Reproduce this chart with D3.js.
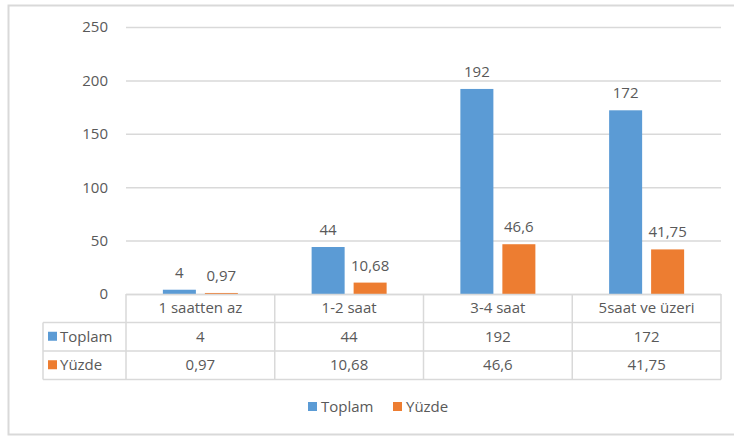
<!DOCTYPE html>
<html>
<head>
<meta charset="utf-8">
<script src="https://cdn.jsdelivr.net/npm/d3@7"></script>
<style>
  body { margin: 0; background: #fff; }
  svg text { font-family: "Open Sans", "Noto Sans", sans-serif; fill: #595959; }
</style>
</head>
<body>
<div id="chart"></div>
<script>
const categories = ['1 saatten az', '1-2 saat', '3-4 saat', '5saat ve üzeri'];
const toplam = [4, 44, 192, 172];
const yuzde = [0.97, 10.68, 46.6, 41.75];
const yuzdeLabels = ['0,97', '10,68', '46,6', '41,75'];
const yTicks = [0, 50, 100, 150, 200, 250];

const seriesList = [
    { name: 'Toplam', values: toplam, labels: toplam.map(String), color: '#5B9BD5' },
    { name: 'Yüzde', values: yuzde, labels: yuzdeLabels, color: '#ED7D31' }
];

const width = 734;
const height = 436;
const margin = { top: 27, left: 126, right: 13 };
const plotBottom = 294;
const rowH = 28.5;

const svg = d3.select('#chart')
    .append('svg')
    .attr('width', width)
    .attr('height', height);

// outer frame
svg.append('rect')
    .attr('x', 8.5).attr('y', 5.5)
    .attr('width', 760).attr('height', 429)
    .attr('fill', 'none')
    .attr('stroke', '#d9d9d9')
    .attr('stroke-width', 2);

const x = d3.scaleBand()
    .domain(categories)
    .range([margin.left, width - margin.right])
    .paddingInner(0)
    .paddingOuter(0);

const inner = d3.scaleBand()
    .domain(seriesList.map(s => s.name))
    .range([0, x.bandwidth()])
    .paddingInner(0.214)
    .paddingOuter(0.878);

const y = d3.scaleLinear()
    .domain([0, 250])
    .range([plotBottom, margin.top]);

// gridlines + y labels
const yAxis = svg.append('g')
    .attr('transform', `translate(${margin.left},0)`)
    .call(d3.axisLeft(y).tickValues(yTicks).tickSize(-(width - margin.right - margin.left)).tickPadding(18));
yAxis.select('.domain').remove();
yAxis.selectAll('.tick line').attr('stroke', '#d9d9d9').attr('stroke-width', 1.5);
yAxis.selectAll('.tick text').style('font-size', '15px').attr('fill', '#595959');

// bars
seriesList.forEach(s => {
    const g = svg.append('g');
    g.selectAll('rect')
        .data(categories)
        .enter().append('rect')
        .attr('x', (c) => x(c) + inner(s.name))
        .attr('y', (c, i) => y(s.values[i]))
        .attr('width', inner.bandwidth())
        .attr('height', (c, i) => plotBottom - y(s.values[i]))
        .attr('fill', s.color);

    g.selectAll('text')
        .data(categories)
        .enter().append('text')
        .attr('x', (c) => x(c) + inner(s.name) + inner.bandwidth() / 2)
        .attr('y', (c, i) => y(s.values[i]) - 12)
        .attr('text-anchor', 'middle')
        .style('font-size', '15px')
        .text((c, i) => s.labels[i]);
});

// data table
const tableLeft = 43;
const tableRight = width - margin.right;
const grid = '#d9d9d9';
const table = svg.append('g');

table.append('line')
    .attr('x1', margin.left).attr('x2', tableRight)
    .attr('y1', plotBottom + 0.5).attr('y2', plotBottom + 0.5)
    .attr('stroke', grid).attr('stroke-width', 1.5);
[1, 2, 3].forEach(r => {
    table.append('line')
        .attr('x1', tableLeft).attr('x2', tableRight)
        .attr('y1', plotBottom + r * rowH).attr('y2', plotBottom + r * rowH)
        .attr('stroke', grid).attr('stroke-width', 1.5);
});
table.append('line')
    .attr('x1', tableLeft).attr('x2', tableLeft)
    .attr('y1', plotBottom + rowH).attr('y2', plotBottom + 3 * rowH)
    .attr('stroke', grid).attr('stroke-width', 1.5);
categories.concat(['end']).forEach((c, i) => {
    const xx = i < categories.length ? x(c) : tableRight;
    table.append('line')
        .attr('x1', xx).attr('x2', xx)
        .attr('y1', plotBottom).attr('y2', plotBottom + 3 * rowH)
        .attr('stroke', grid).attr('stroke-width', 1.5);
});

// header row
table.selectAll('.cat')
    .data(categories)
    .enter().append('text')
    .attr('class', 'cat')
    .attr('x', c => x(c) + x.bandwidth() / 2)
    .attr('y', plotBottom + rowH / 2 + 5)
    .attr('text-anchor', 'middle')
    .style('font-size', '15px')
    .text(c => c);

seriesList.forEach((s, r) => {
    const rowY = plotBottom + (r + 1) * rowH;
    table.append('rect')
        .attr('x', tableLeft + 5).attr('y', rowY + rowH / 2 - 5)
        .attr('width', 9).attr('height', 9)
        .attr('fill', s.color);
    table.append('text')
        .attr('x', tableLeft + 17).attr('y', rowY + rowH / 2 + 5)
        .style('font-size', '15px')
        .text(s.name);
    table.selectAll(`.v${r}`)
        .data(categories)
        .enter().append('text')
        .attr('class', `v${r}`)
        .attr('x', c => x(c) + x.bandwidth() / 2)
        .attr('y', rowY + rowH / 2 + 5)
        .attr('text-anchor', 'middle')
        .style('font-size', '15px')
        .text((c, i) => s.labels[i]);
});

// legend
const legendX = [308, 393];
const legend = svg.append('g');
seriesList.forEach((s, i) => {
    legend.append('rect')
        .attr('x', legendX[i]).attr('y', 402)
        .attr('width', 9).attr('height', 9)
        .attr('fill', s.color);
    legend.append('text')
        .attr('x', legendX[i] + 13).attr('y', 412)
        .style('font-size', '15px')
        .text(s.name);
});
</script>
</body>
</html>
